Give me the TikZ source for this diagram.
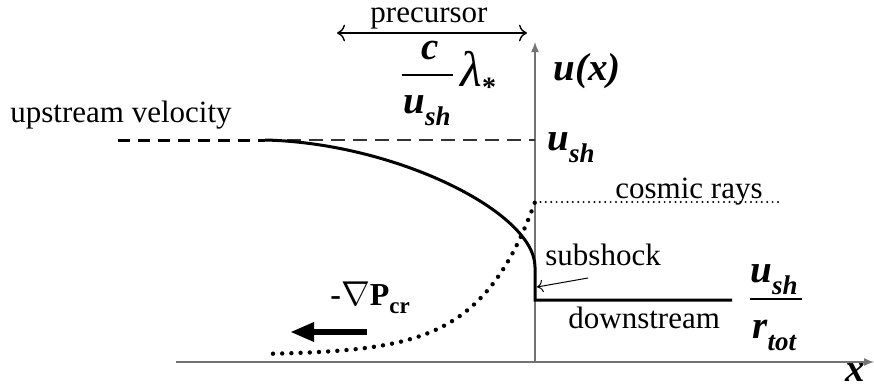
\documentclass[tikz,border=0pt]{standalone}
\usepackage{fontspec}
\setmainfont{Liberation Serif}
\usepackage{tikz}
\usetikzlibrary{arrows.meta,calc}

\newcommand{\bsub}[1]{\raisebox{-6pt}{\fontsize{13.5}{14}\selectfont #1}}

\begin{document}
\begin{tikzpicture}
[x=0.5pt, y=-0.5pt,
 lbl/.style={font=\fontsize{15.5}{18}\selectfont, inner sep=0pt},
 sym/.style={font=\fontsize{19.5}{21}\selectfont\bfseries\itshape, inner sep=0pt},
 axisline/.style={draw=black!55, line width=0.7pt, -{Latex[length=5pt,width=4pt]}},
 profile/.style={line width=1.5pt},
 crdots/.style={line width=2.2pt, line cap=round, dash pattern=on 0pt off 4.6pt},
 crline/.style={line width=1.1pt, line cap=round, dash pattern=on 0pt off 2.7pt}]
\useasboundingbox (0,0) rectangle (874,391);

% axes
\coordinate (xstart) at (176,362);
\coordinate (xend) at (874,362);
\coordinate (o) at (535,362);
\coordinate (yend) at (535,42);
\draw[axisline] (xstart) -- (xend);
\draw[axisline] (o) -- (yend);

% precursor
\node (prec) at (429,23)[lbl,anchor=base] {precursor};
\coordinate (pl) at (337,33);
\coordinate (pr) at (527,33);
\draw[{To[length=4pt]}-{To[length=4pt]}, line width=0.7pt] (pl) -- (pr);

% velocity profile
\coordinate (up) at (118,140);
\coordinate (p0) at (265,140);
\coordinate (ush) at (535,140);
\coordinate (ss) at (535,267);
\coordinate (s1) at (535,300);
\coordinate (down) at (732,300);
\draw[profile, dash pattern=on 6pt off 4pt] (up) -- (p0);
\draw[black!80, line width=0.6pt, dash pattern=on 7pt off 4pt] (p0) -- (ush);
\draw[profile] (p0) .. controls (395,143) and (535,212) .. (ss) -- (s1) -- (down);

% cosmic rays
\coordinate (cr0) at (535,202);
\coordinate (cr1) at (778,202);
\draw[crdots] plot[domain=273:535,samples=60] (\x,{355-153*exp((\x-535)/55)});
\draw[crline] (cr0) -- (cr1);

% labels
\node (upv) at (10,122)[lbl,anchor=base west] {upstream velocity};
\node (crl) at (615,198)[lbl,anchor=base west] {cosmic rays};
\node (sub) at (545,265)[lbl,anchor=base west] {subshock};
\node (dwn) at (568,328)[lbl,anchor=base west] {downstream};
\coordinate (subtail) at (588,278);
\coordinate (subtip) at (537,287);
\draw[-{To[length=3pt]}, line width=0.5pt] (subtail) -- (subtip);

\node (uofx) at (553,80)[sym,anchor=base west] {u(x)};
\node (ushr) at (547,150)[sym,anchor=base west] {u\bsub{sh}};
\node (xl) at (845,381)[sym,anchor=base west] {x};

% c/u_sh lambda
\node (cnum) at (430,60)[sym,anchor=base] {c};
\node (cden) at (403,113)[sym,anchor=base west] {u\bsub{sh}};
\coordinate (fa) at (402,75);
\coordinate (fb) at (453,75);
\draw[line width=0.8pt] (fa) -- (fb);
\node (lam) at (460,86)[sym,anchor=base west,font=\fontsize{25}{26}\selectfont\mdseries\itshape] {λ\raisebox{-5pt}{\fontsize{14}{14}\selectfont\bfseries\upshape *}};

% u_sh/r_tot
\node (dnum) at (750,282)[sym,anchor=base west] {u\bsub{sh}};
\coordinate (ga) at (750,299);
\coordinate (gb) at (802,299);
\draw[line width=0.8pt] (ga) -- (gb);
\node (dden) at (752,338)[sym,anchor=base west] {r\bsub{tot}};

% pressure gradient
\node (grad) at (330,305)[anchor=base west,inner sep=0pt,font=\fontsize{16}{18}\selectfont\bfseries] {-$\nabla$P\raisebox{-4pt}{\fontsize{11.5}{12}\selectfont cr}};
\coordinate (pa) at (367,332);
\coordinate (pb) at (290,332);
\draw[line width=3pt, -{Triangle[length=12pt,width=9pt]}] (pa) -- (pb);

\end{tikzpicture}
\end{document}
